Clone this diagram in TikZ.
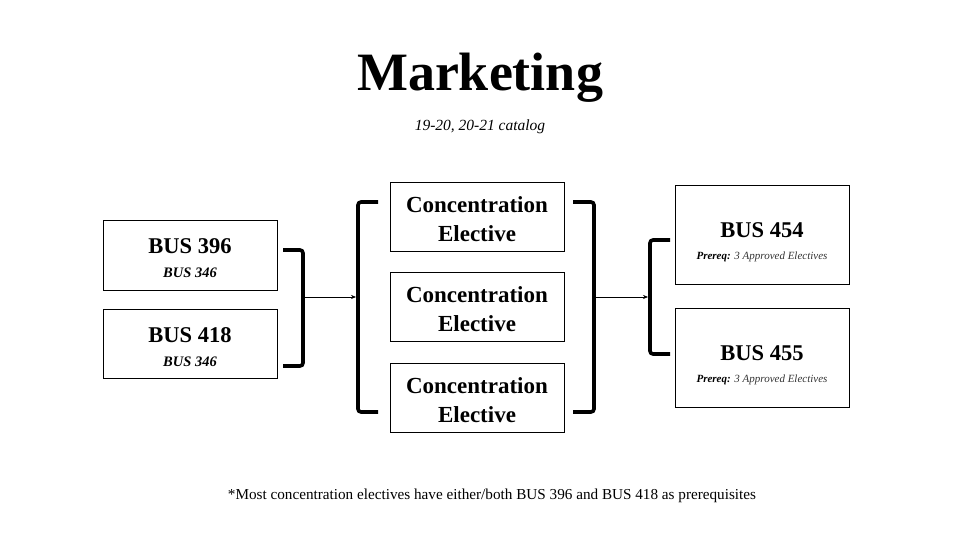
\documentclass[tikz,border=0pt]{standalone}
\usepackage{fontspec}
\setmainfont{Liberation Serif}
\usetikzlibrary{arrows.meta}
\begin{document}
\begin{tikzpicture}[x=1pt,y=-1pt,
  box/.style={draw=black,line width=0.8pt,align=center,inner sep=0pt},
  small/.style={box,minimum width=174pt,minimum height=69pt},
  tall/.style={box,minimum width=174pt,minimum height=99pt},
  brk/.style={line width=3.6pt,rounded corners=3pt,line cap=butt},
  arr/.style={line width=0.6pt,-{Stealth[length=5pt,width=4pt]}}]
\useasboundingbox (0,0) rectangle (960,540);
\node[font=\fontsize{54}{60}\selectfont\bfseries] (title) at (480,78) {Marketing};
\node[font=\fontsize{15.5}{18}\selectfont\itshape] (sub) at (480,127) {19-20, 20-21 catalog};

\node[small,minimum height=70pt,font=\fontsize{22.5}{24}\selectfont\bfseries] (b396) at (190,255) {\rule{0pt}{22pt}BUS 396\\{\fontsize{14.5}{16}\selectfont\itshape BUS 346}};
\node[small,font=\fontsize{22.5}{24}\selectfont\bfseries] (b418) at (190,343.5) {\rule{0pt}{22pt}BUS 418\\{\fontsize{14.5}{16}\selectfont\itshape BUS 346}};

\node[small,font=\fontsize{23}{29}\selectfont\bfseries] (ce1) at (477,216.5) {\rule{0pt}{21pt}Concentration\\Elective};
\node[small,font=\fontsize{23}{29}\selectfont\bfseries] (ce2) at (477,306.5) {\rule{0pt}{21pt}Concentration\\Elective};
\node[small,font=\fontsize{23}{29}\selectfont\bfseries] (ce3) at (477,397.5) {\rule{0pt}{21pt}Concentration\\Elective};

\node[tall,font=\fontsize{22.5}{22}\selectfont\bfseries] (b454) at (762,234.5) {\rule{0pt}{30pt}BUS 454\\{\fontsize{11}{12}\selectfont\itshape Prereq: \mdseries\color{black!80}3 Approved Electives}};
\node[tall,font=\fontsize{22.5}{22}\selectfont\bfseries] (b455) at (762,357.5) {\rule{0pt}{30pt}BUS 455\\{\fontsize{11}{12}\selectfont\itshape Prereq: \mdseries\color{black!80}3 Approved Electives}};

\node[font=\fontsize{15.2}{18}\selectfont] (note) at (492,496) {*Most concentration electives have either/both BUS 396 and BUS 418 as prerequisites};

% brackets
\coordinate (l1) at (303,297);
\coordinate (l2) at (356,297);
\coordinate (r1) at (594,297);
\coordinate (r2) at (648,297);
\draw[brk] (283,250) -- (303,250) -- (303,366) -- (283,366);
\draw[brk] (378,202) -- (358,202) -- (358,412) -- (378,412);
\draw[brk] (573,202) -- (594,202) -- (594,412) -- (573,412);
\draw[brk] (670,240) -- (650,240) -- (650,354) -- (670,354);
\draw[arr] (l1) -- (l2);
\draw[arr] (r1) -- (r2);
\end{tikzpicture}
\end{document}
